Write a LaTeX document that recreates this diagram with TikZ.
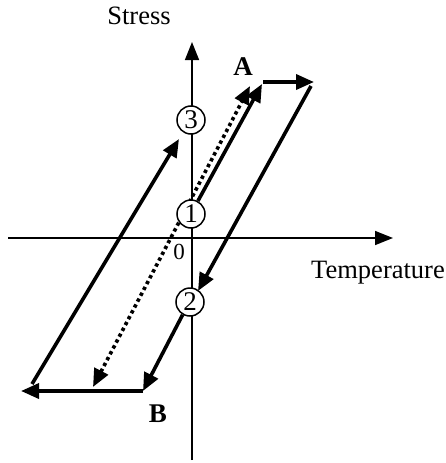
\documentclass[tikz,border=0pt]{standalone}
\usepackage{fontspec}
\setmainfont{Liberation Serif}
\usetikzlibrary{arrows.meta}
\begin{document}
\begin{tikzpicture}[x=1pt,y=-1pt,
  axis/.style={line width=1.5pt,-{Triangle[length=18pt,width=14pt]}},
  path/.style={line width=3.6pt,-{Triangle[length=18pt,width=15pt]}},
  dotpath/.style={line width=3.6pt,dash pattern=on 3.4pt off 3.2pt,{Triangle[length=18pt,width=15pt]}-{Triangle[length=18pt,width=15pt]}},
  circ/.style={circle,draw,line width=1.5pt,fill=white,minimum size=28pt,inner sep=0pt,font=\fontsize{27}{27}\selectfont},
  lbl/.style={font=\fontsize{26.5}{28}\selectfont},
  blbl/.style={font=\fontsize{27}{29}\selectfont\bfseries}]
\useasboundingbox (0,0) rectangle (445,463);
% axes
\coordinate (xl) at (8,238);
\coordinate (xr) at (393,238);
\coordinate (yb) at (192,460);
\coordinate (yt) at (192,42);
\draw[axis] (xl) -- (xr);
\draw[axis] (yb) -- (yt);
% path coordinates
\coordinate (p1) at (262,84);
\coordinate (q1) at (263,82);
\coordinate (q2) at (314,82);
\coordinate (r1) at (311,86);
\coordinate (r2) at (198,291);
\coordinate (s2) at (143,391);
\coordinate (t1) at (143,391);
\coordinate (t2) at (21,391);
\coordinate (u1) at (32,384);
\coordinate (u2) at (179,139);
\coordinate (d1) at (93,387);
\coordinate (d2) at (250,86);
% dotted
\draw[dotpath] (d1) -- (d2);
% circles
\node[circ] (c1) at (191,214) {1};
\node[circ] (c2) at (190,302) {2};
\node[circ] (c3) at (191,120) {3};
% solid paths
\draw[path] (c1.62) -- (p1);
\draw[path] (q1) -- (q2);
\draw[path] (r1) -- (r2);
\draw[path] (c2.-120) -- (s2);
\draw[path] (t1) -- (t2);
\draw[path] (u1) -- (u2);
% labels
\node[lbl] (stress) at (139,16) {Stress};
\node[lbl] (temp) at (378,273) {Temperature};
\node[font=\fontsize{23}{24}\selectfont] (zero) at (179,252) {0};
\node[blbl] (A) at (243,67) {A};
\node[blbl] (B) at (158,414) {B};
\end{tikzpicture}
\end{document}
